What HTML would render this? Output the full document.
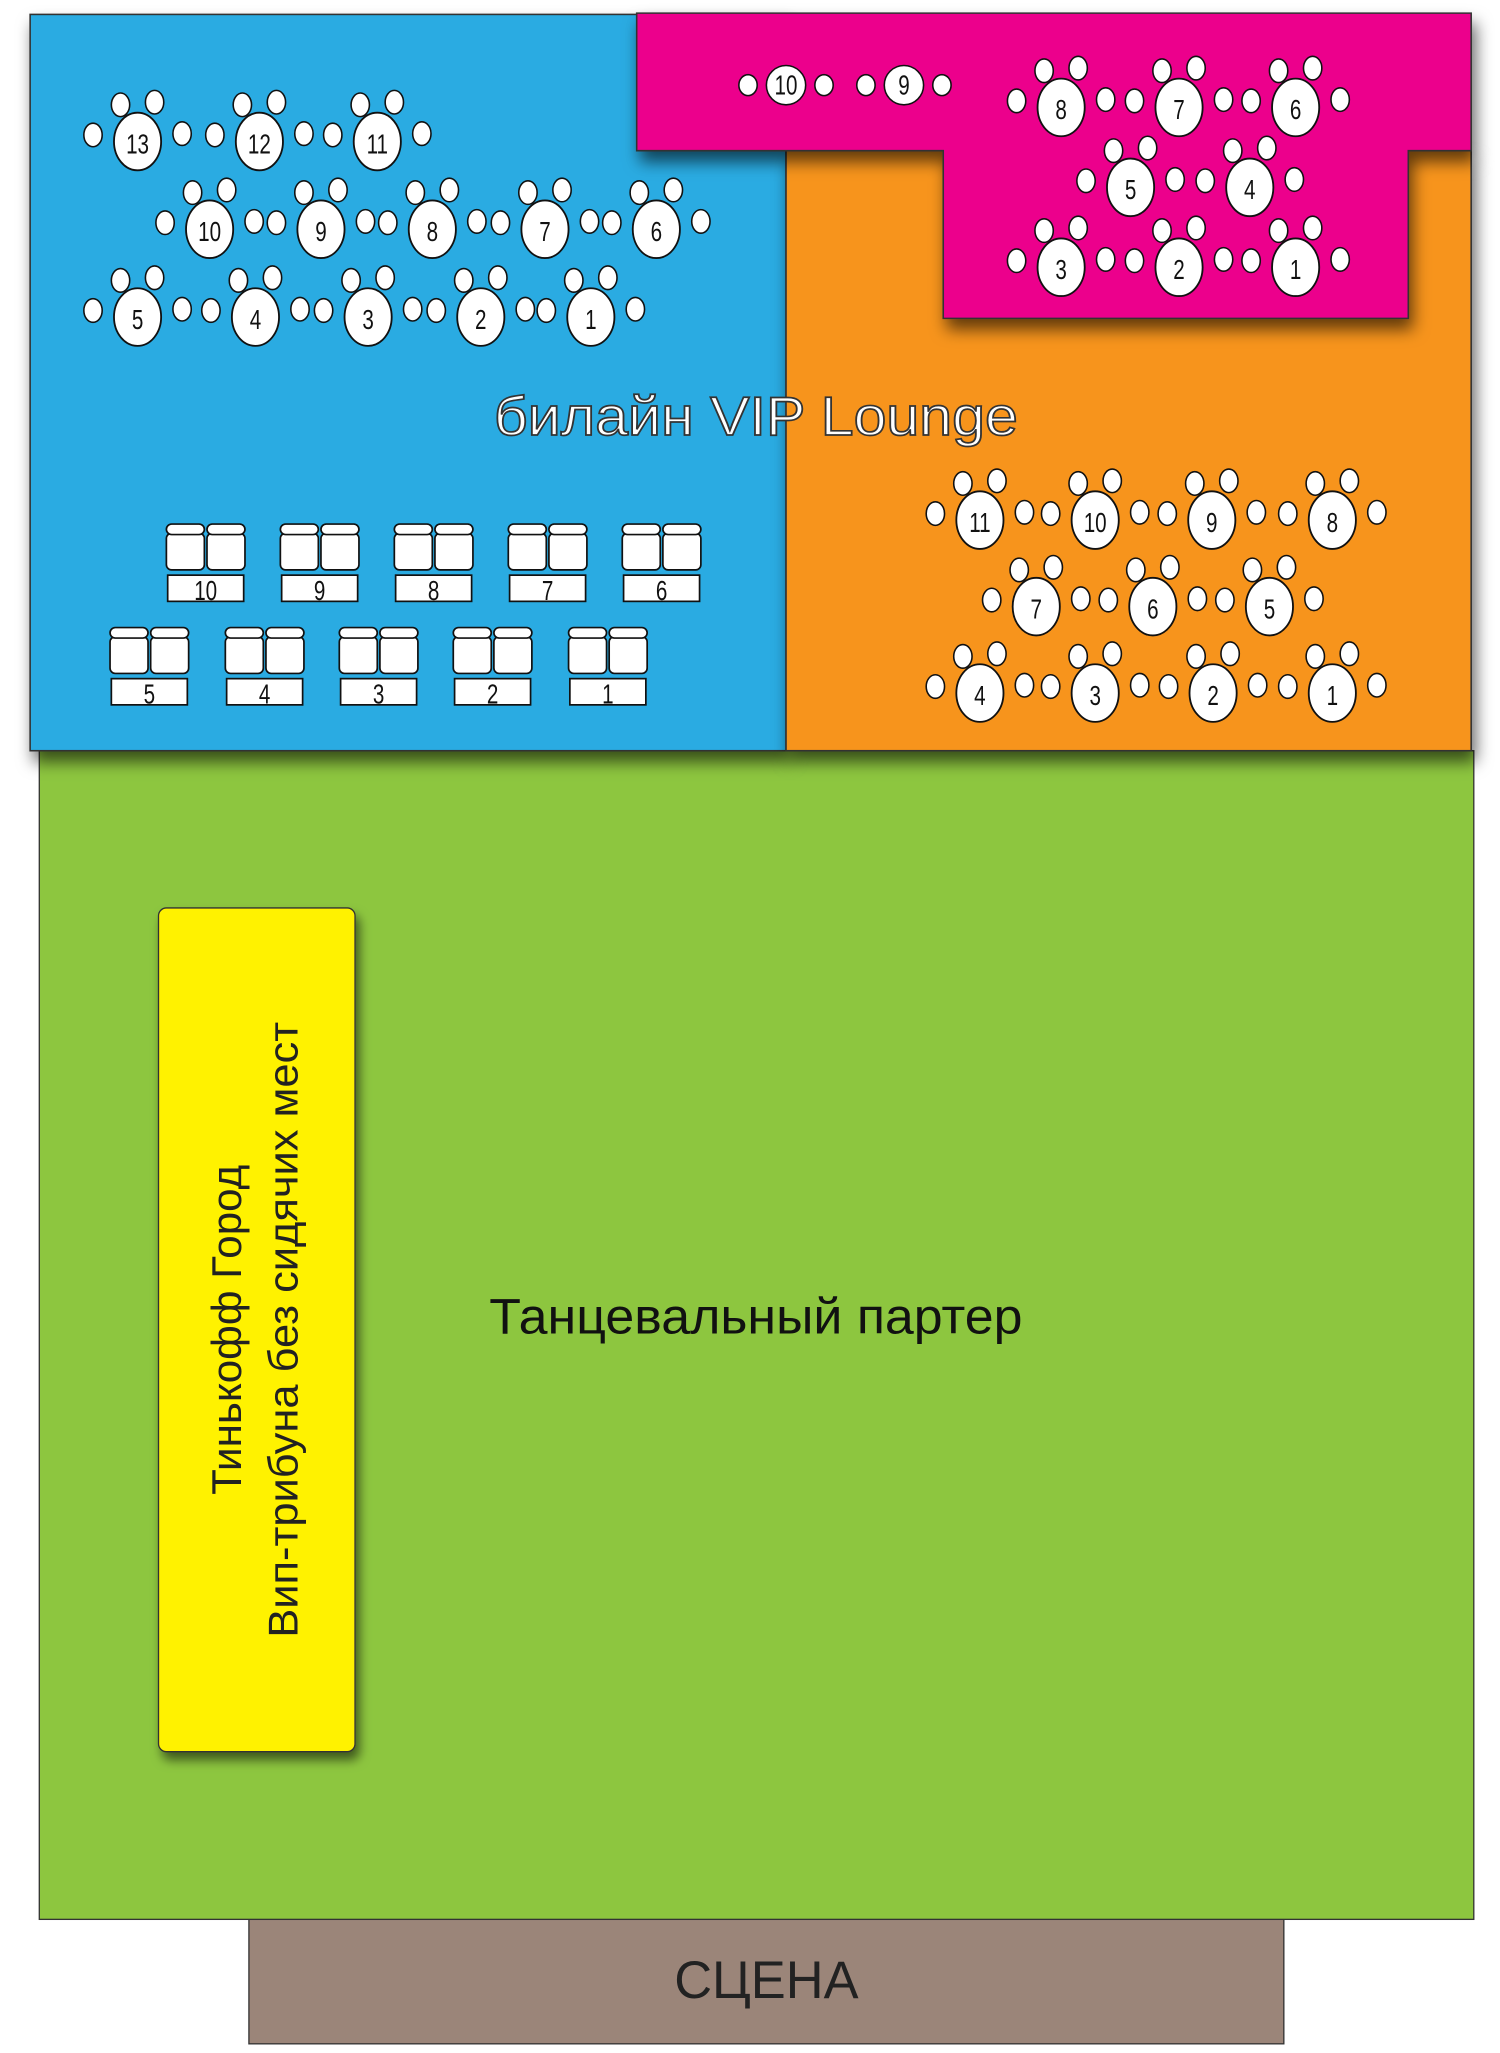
<!DOCTYPE html>
<html><head><meta charset="utf-8"><style>
html,body{margin:0;padding:0;background:#fff;width:1500px;height:2053px;overflow:hidden}
svg{display:block}
.n{font-family:"Liberation Sans Narrow","Liberation Sans",sans-serif;font-size:21px;fill:#111;text-anchor:middle}
</style></head><body>
<svg id="s" width="1500" height="2053" viewBox="0 0 1145 1567" preserveAspectRatio="none" xmlns="http://www.w3.org/2000/svg">
<defs>
<filter id="sh" x="-10%" y="-10%" width="130%" height="130%"><feDropShadow dx="3" dy="8" stdDeviation="6" flood-color="#000" flood-opacity="0.6"/></filter>
<filter id="sh2" x="-10%" y="-10%" width="130%" height="130%"><feDropShadow dx="3" dy="6" stdDeviation="4" flood-color="#000" flood-opacity="0.55"/></filter>
</defs>
<rect x="190" y="1463" width="790" height="97" fill="#9b8579" stroke="#333" stroke-width="1"/>
<text x="585" y="1525" font-family="Liberation Sans,sans-serif" font-size="40" text-anchor="middle" fill="#222">СЦЕНА</text>
<rect x="30" y="573" width="1095" height="892" fill="#8dc63f" stroke="#333" stroke-width="1"/>
<rect x="23" y="11" width="577" height="562" fill="#29abe2" stroke="#333" stroke-width="1.2" filter="url(#sh)"/>
<rect x="600" y="115" width="523" height="458" fill="#f7941d" stroke="#333" stroke-width="1.2" filter="url(#sh)"/>
<polygon points="486,10 1123,10 1123,115 1075,115 1075,243 720,243 720,115 486,115" fill="#ec008c" stroke="#333" stroke-width="1.2" filter="url(#sh)"/>
<rect x="121" y="693" width="150" height="644" rx="6" fill="#fff200" stroke="#333" stroke-width="1" filter="url(#sh2)"/>
<g font-family="Liberation Sans,sans-serif" font-size="32" fill="#222" text-anchor="middle">
<text transform="translate(184,1015) rotate(-90)" textLength="252" lengthAdjust="spacingAndGlyphs">Тинькофф Город</text>
<text transform="translate(227,1015) rotate(-90)" textLength="470" lengthAdjust="spacingAndGlyphs">Вип-трибуна без сидячих мест</text>
</g>
<text x="577" y="1018" font-family="Liberation Sans,sans-serif" font-size="38" text-anchor="middle" fill="#111" textLength="407" lengthAdjust="spacingAndGlyphs">Танцевальный партер</text>
<text x="577" y="332" font-family="Liberation Sans,sans-serif" font-size="42" text-anchor="middle" fill="#fff" stroke="#333" stroke-width="1.3" textLength="400" lengthAdjust="spacingAndGlyphs">билайн VIP Lounge</text>
<g id="t"></g>
</svg>
<script>
var g=document.getElementById('t'),h='';
function num(x,y,n,fs){
  return '<text class="n" x="'+x+'" y="'+y+'" font-size="'+fs+'" transform="translate('+x+' 0) scale(0.75 1) translate('+(-x)+' 0)">'+n+'</text>';
}
function table(x,y,n,small){
  var s='';
  if(small){
    s+='<ellipse cx="'+(x-29)+'" cy="'+y+'" rx="7" ry="8" fill="#fff" stroke="#111" stroke-width="1.2"/>';
    s+='<ellipse cx="'+(x+29)+'" cy="'+y+'" rx="7" ry="8" fill="#fff" stroke="#111" stroke-width="1.2"/>';
    s+='<ellipse cx="'+x+'" cy="'+y+'" rx="15" ry="15" fill="#fff" stroke="#111" stroke-width="1.2"/>';
    s+=num(x,y+7,n,19);
    return s;
  }
  [[-13,-28],[13,-30],[-34,-5],[34,-6]].forEach(function(d){
    s+='<ellipse cx="'+(x+d[0])+'" cy="'+(y+d[1])+'" rx="7" ry="9" fill="#fff" stroke="#111" stroke-width="1.2"/>';
  });
  s+='<ellipse cx="'+x+'" cy="'+y+'" rx="18" ry="22" fill="#fff" stroke="#111" stroke-width="1.4"/>';
  s+=num(x,y+9,n,24);
  return s;
}
function sofa(cx,y,n){
  var s='';
  [cx-30,cx+1].forEach(function(x){
    s+='<rect x="'+x+'" y="'+(y+7)+'" width="29" height="28" rx="4" fill="#fff" stroke="#111" stroke-width="1.3"/>';
    s+='<rect x="'+x+'" y="'+y+'" width="29" height="8" rx="4" fill="#fff" stroke="#111" stroke-width="1.3"/>';
  });
  s+='<rect x="'+(cx-29)+'" y="'+(y+39)+'" width="58" height="20" fill="#fff" stroke="#111" stroke-width="1.3"/>';
  s+=num(cx,y+58,n,21);
  return s;
}
[[105,13],[198,12],[288,11]].forEach(function(a){h+=table(a[0],108,a[1]);});
[[160,10],[245,9],[330,8],[416,7],[501,6]].forEach(function(a){h+=table(a[0],175,a[1]);});
[[105,5],[195,4],[281,3],[367,2],[451,1]].forEach(function(a){h+=table(a[0],242,a[1]);});
h+=table(600,65,10,true);h+=table(690,65,9,true);
[[810,8],[900,7],[989,6]].forEach(function(a){h+=table(a[0],82,a[1]);});
[[863,5],[954,4]].forEach(function(a){h+=table(a[0],143,a[1]);});
[[810,3],[900,2],[989,1]].forEach(function(a){h+=table(a[0],204,a[1]);});
[[748,11],[836,10],[925,9],[1017,8]].forEach(function(a){h+=table(a[0],397,a[1]);});
[[791,7],[880,6],[969,5]].forEach(function(a){h+=table(a[0],463,a[1]);});
[[748,4],[836,3],[926,2],[1017,1]].forEach(function(a){h+=table(a[0],529,a[1]);});
[[157,10],[244,9],[331,8],[418,7],[505,6]].forEach(function(a){h+=sofa(a[0],400,a[1]);});
[[114,5],[202,4],[289,3],[376,2],[464,1]].forEach(function(a){h+=sofa(a[0],479,a[1]);});
g.innerHTML=h;
</script>
</body></html>
